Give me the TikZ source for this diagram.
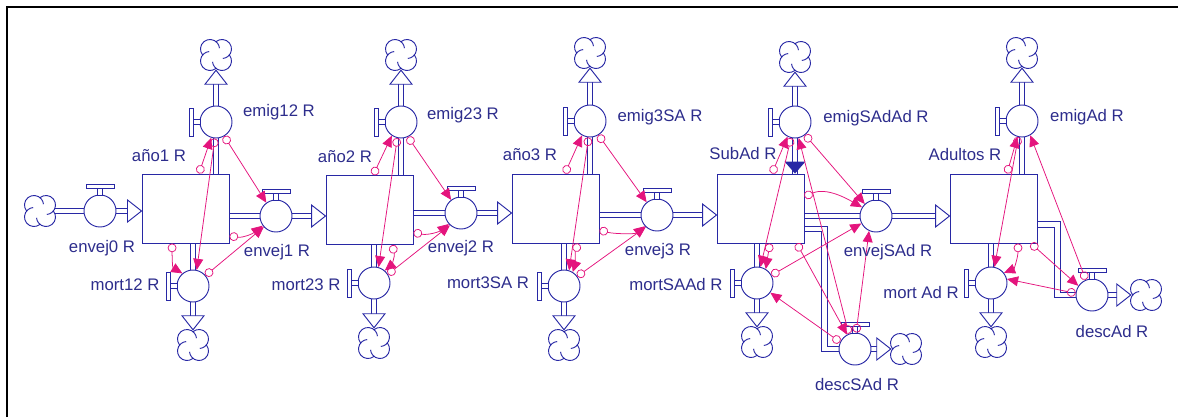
\documentclass[tikz,border=0pt]{standalone}
\usepackage{fontspec}
\setmainfont{Liberation Sans}
\usetikzlibrary{arrows.meta,backgrounds}

\definecolor{flujo}{RGB}{40,40,165}
\definecolor{texto}{RGB}{45,45,140}
\definecolor{enlace}{RGB}{228,20,125}

\tikzset{
  nivel/.style={draw=flujo, line width=0.8pt, fill=white, minimum width=2.61cm, minimum height=2.07cm, inner sep=0pt},
  valvula/.style={draw=flujo, line width=0.8pt, fill=white, circle, minimum size=0.96cm, inner sep=0pt},
  nube/.style={circle, minimum size=0.9cm, inner sep=0pt},
  tubo/.style={draw=flujo, double=white, double distance=3.8pt, line width=0.8pt},
  enlace/.style={draw=enlace, line width=0.65pt, {Circle[open,length=7.5pt]}-{Triangle[length=9.5pt,width=8.5pt]}},
  rotulo/.style={text=texto, font=\fontsize{14.3pt}{16pt}\selectfont, inner sep=0pt},
  % cloud: four lobes with small inward curls
  lobulos/.pic={
    \fill[white] (0,0) circle[radius=13];
    \foreach \a in {45,135,225,315}
      \draw[flujo, line width=0.8pt] (\a:8.5) ++(\a-84:9.5) arc[start angle=\a-84, end angle=\a+130, radius=9.5];
  },
  % open head of a flow pipe, tip at the origin
  punta/.pic={\draw[flujo, fill=white, line width=0.8pt] (0,0) -- (-14,-11) -- (-14,11) -- cycle;},
  % handle of a valve, pointing up
  llave/.pic={\draw[flujo, line width=0.8pt, fill=white] (-2.5,-16) rectangle (2.5,-23) (-14,-23) rectangle (14,-26.5);}
}

\begin{document}
\begin{tikzpicture}[x=0.03cm, y=-0.03cm]
\useasboundingbox (0,0) rectangle (1178,417);
\draw[line width=1.7pt] (7,417) -- (7,7) -- (1178,7);

% stocks
\node[nivel] (ano1) at (185.5,208.5) {};
\node[nivel] (ano2) at (369.5,210) {};
\node[nivel] (ano3) at (555.5,208.5) {};
\node[nivel] (SubAd) at (760.5,208.5) {};
\node[nivel] (Adultos) at (993.5,208.5) {};

% valves
\node[valvula] (envej0) at (100,211) {};
\node[valvula] (envej1) at (276,216) {};
\node[valvula] (envej2) at (461,213) {};
\node[valvula] (envej3) at (657,215) {};
\node[valvula] (envejSAd) at (876,216) {};
\node[valvula] (emig12) at (216,122) {};
\node[valvula] (emig23) at (401,122) {};
\node[valvula] (emig3SA) at (590,121) {};
\node[valvula] (emigSAdAd) at (795,122) {};
\node[valvula] (emigAd) at (1022,121) {};
\node[valvula] (mort12) at (193,286) {};
\node[valvula] (mort23) at (374,283) {};
\node[valvula] (mort3SA) at (564,286) {};
\node[valvula] (mortSAAd) at (757,283) {};
\node[valvula] (mortAd) at (991,283) {};
\node[valvula] (descSAd) at (855,349) {};
\node[valvula] (descAd) at (1092,295) {};

% clouds
\node[nube] (nube0) at (40,211) {};
\node[nube] (nubeE1) at (216,55) {};
\node[nube] (nubeE2) at (401,55) {};
\node[nube] (nubeE3) at (590,53) {};
\node[nube] (nubeE4) at (795,57) {};
\node[nube] (nubeE5) at (1022,53) {};
\node[nube] (nubeM1) at (193,345) {};
\node[nube] (nubeM2) at (374,343) {};
\node[nube] (nubeM3) at (564,345) {};
\node[nube] (nubeM4) at (757,342) {};
\node[nube] (nubeM5) at (991,342) {};
\node[nube] (nubeD1) at (906,349) {};
\node[nube] (nubeD2) at (1146,295) {};

% pipes
\begin{scope}[on background layer]
  \draw[tubo, shorten >=9pt] (nube0) -- (envej0) -- (ano1.west |- envej0);
  \draw[tubo, shorten >=9pt] (ano1.east |- envej1) -- (envej1) -- (ano2.west |- envej1);
  \draw[tubo, shorten >=9pt] (ano2.east |- envej2) -- (envej2) -- (ano3.west |- envej2);
  \draw[tubo, shorten >=9pt] (ano3.east |- envej3) -- (envej3) -- (SubAd.west |- envej3);
  \draw[tubo, shorten >=9pt] (SubAd.east |- envejSAd) -- (envejSAd) -- (Adultos.west |- envejSAd);
  \draw[tubo, shorten >=9pt] (ano1.north -| emig12) -- (emig12) -- (nubeE1.south);
  \draw[tubo, shorten >=9pt] (ano2.north -| emig23) -- (emig23) -- (nubeE2.south);
  \draw[tubo, shorten >=9pt] (ano3.north -| emig3SA) -- (emig3SA) -- (nubeE3.south);
  \draw[tubo, shorten >=9pt] (SubAd.north -| emigSAdAd) -- (emigSAdAd) -- (nubeE4.south);
  \draw[tubo, shorten >=9pt] (Adultos.north -| emigAd) -- (emigAd) -- (nubeE5.south);
  \draw[tubo, shorten >=9pt] (ano1.south -| mort12) -- (mort12) -- (nubeM1.north);
  \draw[tubo, shorten >=9pt] (ano2.south -| mort23) -- (mort23) -- (nubeM2.north);
  \draw[tubo, shorten >=9pt] (ano3.south -| mort3SA) -- (mort3SA) -- (nubeM3.north);
  \draw[tubo, shorten >=9pt] (SubAd.south -| mortSAAd) -- (mortSAAd) -- (nubeM4.north);
  \draw[tubo, shorten >=9pt] (Adultos.south -| mortAd) -- (mortAd) -- (nubeM5.north);
  \draw[tubo, shorten >=9pt] (SubAd.335) -- ++(20,0) |- (descSAd) -- (nubeD1.west);
  \draw[tubo, shorten >=9pt] (Adultos.340) -- ++(20,0) |- (descAd) -- (nubeD2.west);
\end{scope}

\foreach \n in {nube0,nubeE1,nubeE2,nubeE3,nubeE4,nubeE5,nubeM1,nubeM2,nubeM3,nubeM4,nubeM5,nubeD1,nubeD2}
  \pic at (\n) {lobulos};

\pic at (ano1.west |- envej0) {punta};
\pic at (ano2.west |- envej1) {punta};
\pic at (ano3.west |- envej2) {punta};
\pic at (SubAd.west |- envej3) {punta};
\pic at (Adultos.west |- envejSAd) {punta};
\foreach \n in {nubeE1,nubeE2,nubeE3,nubeE4,nubeE5}
  \pic[rotate=90] at (\n.south) {punta};
\foreach \n in {nubeM1,nubeM2,nubeM3,nubeM4,nubeM5}
  \pic[rotate=-90] at (\n.north) {punta};
\pic at (nubeD1.west) {punta};
\pic at (nubeD2.west) {punta};
\fill[flujo] (emigSAdAd |- SubAd.north) ++(-10.5,-12) -- ++(21,0) -- ++(-10.5,12) -- cycle;

% valve handles
\foreach \n in {envej0,envej1,envej2,envej3,envejSAd,descSAd,descAd}
  \pic at (\n) {llave};
\foreach \n in {emig12,emig23,emig3SA,emigSAdAd,emigAd,mort12,mort23,mort3SA,mortSAAd,mortAd}
  \pic[rotate=90] at (\n) {llave};

% links
\draw[enlace] (ano1.69) -- (emig12.253);
\draw[enlace] (emig12.266) -- (mort12.77);
\draw[enlace] (emig12.300) -- (envej1.126);
\draw[enlace] (ano1.249) .. controls +(0,14) and +(-10,-6) .. (mort12.130);
\draw[enlace] (ano1.328) .. controls +(14,2) and +(-10,8) .. (envej1.216);
\draw[enlace] (mort12.40) -- (envej1.222);

\draw[enlace] (ano2.84) -- (emig23.236);
\draw[enlace] (emig23.257) -- (mort23.74);
\draw[enlace] (emig23.295) -- (envej2.127);
\draw[enlace] (ano2.303) .. controls +(3,12) and +(6,-5) .. (mort23.49);
\draw[enlace] (ano2.333) .. controls +(14,3) and +(-10,8) .. (envej2.222);
\draw[enlace] (mort23.32) -- (envej2.228);

\draw[enlace] (ano3.75) -- (emig3SA.241);
\draw[enlace] (emig3SA.265) -- (mort3SA.72);
\draw[enlace] (emig3SA.301) -- (envej3.129);
\draw[enlace] (ano3.303) .. controls +(-3,8) and +(2,-6) .. (mort3SA.58);
\draw[enlace] (ano3.334) .. controls +(14,4) and +(-10,8) .. (envej3.223);
\draw[enlace] (mort3SA.36) -- (envej3.227);

\draw[enlace] (SubAd.72) -- (emigSAdAd.243);
\draw[enlace] (emigSAdAd.256) -- (mortSAAd.78);
\draw[enlace] (emigSAdAd.308) -- (envejSAd.133);
\draw[enlace] (SubAd.15) .. controls +(22,-10) and +(-14,-8) .. (envejSAd.148);
\draw[enlace] (SubAd.285) -- (mortSAAd.58);
\draw[enlace] (mortSAAd.28) -- (envejSAd.207);
\draw[enlace] (SubAd.316) -- (descSAd.119);
\draw[enlace] (descSAd.86) -- (envejSAd.245);
\draw[enlace] (descSAd.155) -- (mortSAAd.324);
\draw[enlace] (descSAd.112) -- (emigSAdAd.283);

\draw[enlace] (Adultos.69) -- (emigAd.254);
\draw[enlace] (emigAd.257) -- (mortAd.78);
\draw[enlace] (Adultos.305) .. controls +(0,14) and +(10,-4) .. (mortAd.38);
\draw[enlace] (Adultos.317) -- (descAd.146);
\draw[enlace] (descAd.112) -- (emigAd.300);
\draw[enlace] (descAd.174) -- (mortAd.14);

% labels
\node[rotulo] (tEnvej0) at (102,248) {envej0 R};
\node[rotulo] (tAno1) at (159,156) {año1 R};
\node[rotulo] (tEmig12) at (279,112) {emig12 R};
\node[rotulo] (tEnvej1) at (277,252) {envej1 R};
\node[rotulo] (tMort12) at (125,285) {mort12 R};
\node[rotulo] (tAno2) at (345,157) {año2 R};
\node[rotulo] (tEmig23) at (463,115) {emig23 R};
\node[rotulo] (tEnvej2) at (461,248) {envej2 R};
\node[rotulo] (tMort23) at (306,285) {mort23 R};
\node[rotulo] (tAno3) at (530,155) {año3 R};
\node[rotulo] (tEmig3SA) at (660,117) {emig3SA R};
\node[rotulo] (tEnvej3) at (658,251) {envej3 R};
\node[rotulo] (tMort3SA) at (488,283) {mort3SA R};
\node[rotulo] (tSubAd) at (743,154) {SubAd R};
\node[rotulo] (tEmigSAdAd) at (876,118) {emigSAdAd R};
\node[rotulo] (tEnvejSAd) at (888,252) {envejSAd R};
\node[rotulo] (tMortSAAd) at (676,285) {mortSAAd R};
\node[rotulo] (tDescSAd) at (857,385) {descSAd R};
\node[rotulo] (tAdultos) at (965,155) {Adultos R};
\node[rotulo] (tEmigAd) at (1087,117) {emigAd R};
\node[rotulo] (tMortAd) at (921,293) {mort Ad R};
\node[rotulo] (tDescAd) at (1112,332) {descAd R};
\end{tikzpicture}
\end{document}
